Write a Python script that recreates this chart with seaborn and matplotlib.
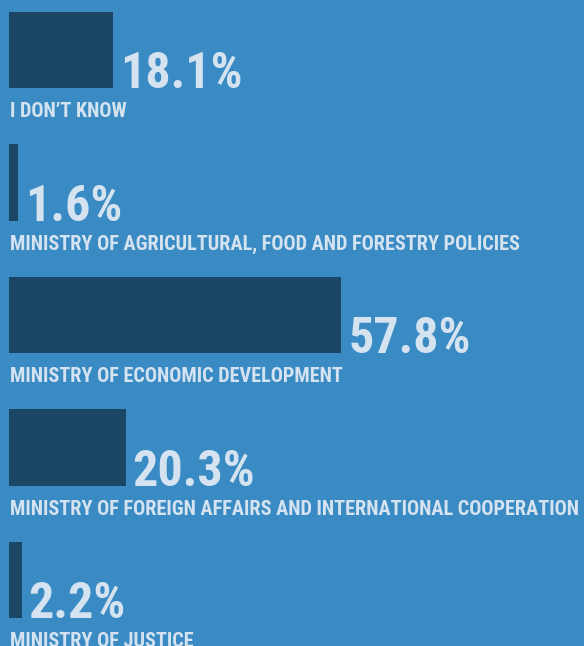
import matplotlib
matplotlib.use("Agg")
import matplotlib.pyplot as plt
import seaborn as sns
import pandas as pd

categories = [
    "I DON\u2019T KNOW",
    "MINISTRY OF AGRICULTURAL, FOOD AND FORESTRY POLICIES",
    "MINISTRY OF ECONOMIC DEVELOPMENT",
    "MINISTRY OF FOREIGN AFFAIRS AND INTERNATIONAL COOPERATION",
    "MINISTRY OF JUSTICE",
]
values = [18.1, 1.6, 57.8, 20.3, 2.2]
value_labels = ["18.1%", "1.6%", "57.8%", "20.3%", "2.2%"]

BG = "#3a8bc3"
BAR = "#1b4666"
TXT = "#d5e3f1"

sns.set_theme(style="white")
plt.rcParams["font.family"] = ["Roboto Condensed", "Fira Sans Condensed", "DejaVu Sans"]

df = pd.DataFrame({"category": categories, "value": values})

W, H = 584, 646
fig = plt.figure(figsize=(W / 100, H / 100), dpi=100, facecolor=BG)
ax = fig.add_axes([0, 0, 1, 1])
ax.set_facecolor(BG)

sns.barplot(data=df, x="value", y="category", orient="h", color=BAR,
            width=0.574, saturation=1, linewidth=0, ax=ax)

px_per_unit = 5.75
left_px = 9
row_px = 132.5
first_center_px = 50
ax.set_xlim(-left_px / px_per_unit, (W - left_px) / px_per_unit)
ax.set_ylim((H - first_center_px) / row_px, -first_center_px / row_px)
ax.set_axis_off()

for i, (v, lab, cat) in enumerate(zip(values, value_labels, categories)):
    ax.annotate(lab, xy=(v, i + 0.287), xytext=(5, 0), textcoords="offset points",
                ha="left", va="baseline", color=TXT, fontsize=36, fontweight="bold",
                annotation_clip=False)
    ax.annotate(cat, xy=(0, i + 0.287), xytext=(0.5, -21), textcoords="offset points",
                ha="left", va="baseline", color=TXT, fontsize=14.6, fontweight="bold",
                annotation_clip=False)

fig.savefig("out.png", dpi=100, facecolor=BG)
